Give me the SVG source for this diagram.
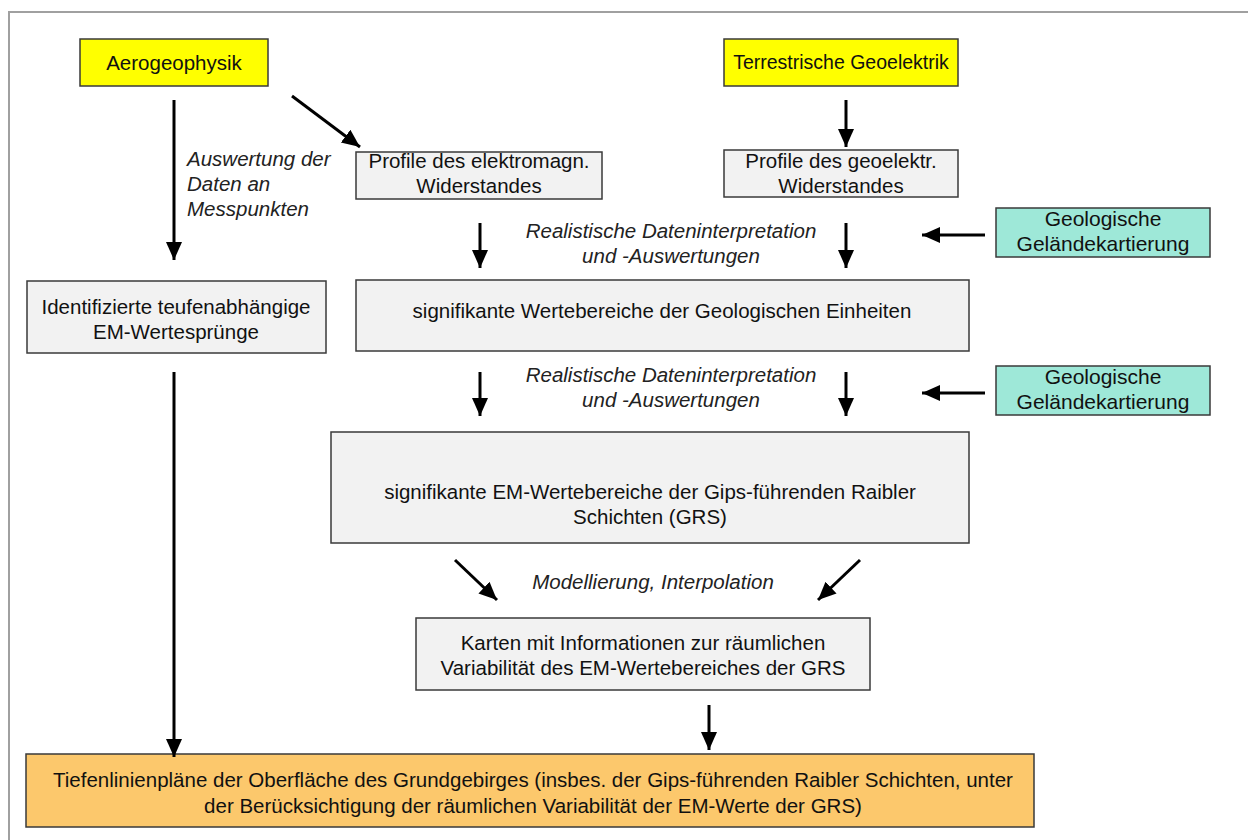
<svg xmlns="http://www.w3.org/2000/svg" width="1248" height="840" viewBox="0 0 1248 840">
<style>
.box{stroke:#3a3a3a;stroke-width:1.5}
.gray{fill:#f2f2f2}
.yellow{fill:#ffff00}
.green{fill:#9ee8d8}
.orange{fill:#fcc86c}
text{font-family:"Liberation Sans",Arial,sans-serif;font-size:20.5px;fill:#111;text-anchor:middle}
.it{font-style:italic;fill:#222}
.lt{text-anchor:start}
.gt{font-size:21px}
.st{font-size:19.5px}
.conn line{stroke:#000;stroke-width:3;marker-end:url(#ah)}
</style>
<defs>
<marker id="ah" markerUnits="userSpaceOnUse" markerWidth="20" markerHeight="18" refX="18" refY="9" orient="auto">
<path d="M0,1 L18,9 L0,17 z" fill="#000"/>
</marker>
</defs>
<rect width="1248" height="840" fill="#fff"/>
<path d="M9,840 V12 H1248" fill="none" stroke="#a0a0a0" stroke-width="2"/>

<g id="aerogeophysik"><rect class="box yellow" x="80" y="39" width="188" height="47"/><text x="174" y="70">Aerogeophysik</text></g>
<g id="terrestrische"><rect class="box yellow" x="724" y="39" width="234" height="47"/><text class="st" x="841" y="69">Terrestrische Geoelektrik</text></g>
<g id="label-auswertung"><text class="it lt" x="187" y="166">Auswertung der</text><text class="it lt" x="187" y="191">Daten an</text><text class="it lt" x="187" y="216">Messpunkten</text></g>
<g id="profile-em"><rect class="box gray" x="356" y="152" width="246" height="47"/><text x="479" y="168">Profile des elektromagn.</text><text x="479" y="193">Widerstandes</text></g>
<g id="profile-ge"><rect class="box gray" x="724" y="150" width="234" height="47"/><text x="841" y="168">Profile des geoelektr.</text><text x="841" y="193">Widerstandes</text></g>
<g id="label-real1"><text class="it" x="671" y="238">Realistische Dateninterpretation</text><text class="it" x="671" y="263">und -Auswertungen</text></g>
<g id="gelaende1"><rect class="box green" x="996" y="208" width="214" height="49"/><text class="gt" x="1103" y="226">Geologische</text><text class="gt" x="1103" y="251">Geländekartierung</text></g>
<g id="teufen"><rect class="box gray" x="27" y="281" width="299" height="72"/><text x="176" y="314">Identifizierte teufenabhängige</text><text x="176" y="339">EM-Wertesprünge</text></g>
<g id="signif1"><rect class="box gray" x="356" y="280" width="613" height="71"/><text x="662" y="318">signifikante Wertebereiche der Geologischen Einheiten</text></g>
<g id="label-real2"><text class="it" x="671" y="382">Realistische Dateninterpretation</text><text class="it" x="671" y="407">und -Auswertungen</text></g>
<g id="gelaende2"><rect class="box green" x="996" y="366" width="214" height="49"/><text class="gt" x="1103" y="384">Geologische</text><text class="gt" x="1103" y="409">Geländekartierung</text></g>
<g id="signif2"><rect class="box gray" x="331" y="432" width="638" height="111"/><text x="650" y="499">signifikante EM-Wertebereiche der Gips-führenden Raibler</text><text x="650" y="524">Schichten (GRS)</text></g>
<g id="label-modell"><text class="it" x="653" y="589">Modellierung, Interpolation</text></g>
<g id="karten"><rect class="box gray" x="416" y="618" width="454" height="72"/><text x="643" y="650">Karten mit Informationen zur räumlichen</text><text x="643" y="675">Variabilität des EM-Wertebereiches der GRS</text></g>
<g id="tiefenlinien"><rect class="box orange" x="26" y="754" width="1008" height="73"/><text x="533" y="787">Tiefenlinienpläne der Oberfläche des Grundgebirges (insbes. der Gips-führenden Raibler Schichten, unter</text><text x="533" y="813">der Berücksichtigung der räumlichen Variabilität der EM-Werte der GRS)</text></g>

<g id="connectors" class="conn">
<line x1="174" y1="100" x2="174" y2="260"/>
<line x1="292" y1="96" x2="360" y2="147"/>
<line x1="846" y1="100" x2="846" y2="147"/>
<line x1="480" y1="223" x2="480" y2="268"/>
<line x1="846" y1="223" x2="846" y2="268"/>
<line x1="985" y1="235" x2="922" y2="235"/>
<line x1="480" y1="372" x2="480" y2="416"/>
<line x1="846" y1="372" x2="846" y2="416"/>
<line x1="985" y1="393" x2="922" y2="393"/>
<line x1="174" y1="372" x2="174" y2="757"/>
<line x1="455" y1="560" x2="497" y2="600"/>
<line x1="860" y1="560" x2="818" y2="600"/>
<line x1="709" y1="705" x2="709" y2="750"/>
</g>
</svg>
